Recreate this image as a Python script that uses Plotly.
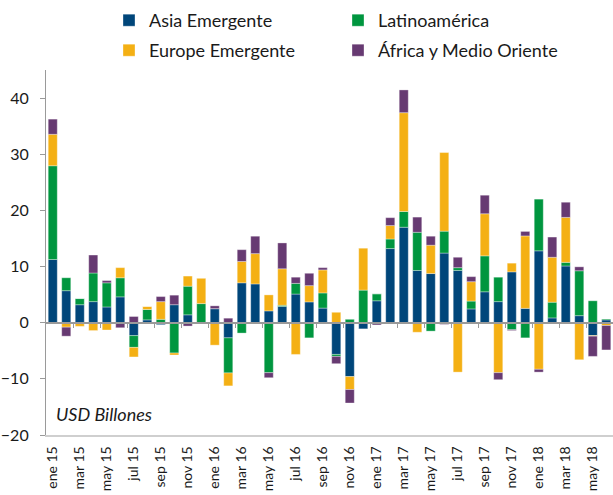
import plotly.graph_objects as go

meses = ["ene", "feb", "mar", "abr", "may", "jun", "jul", "ago", "sep", "oct", "nov", "dic"]
categorias = [f"{m} {y}" for y in ["15", "16", "17", "18"] for m in meses][:42]

asia = [11.25, 5.7, 3.2, 3.75, 2.8, 4.6, -2.3, 0.5, -0.35, 3.2, 1.4, 0.0,
        2.5, -2.7, 7.1, 6.9, 2.1, 2.9, 5.1, 3.7, 2.6, -5.65, -9.6, -1.1,
        3.9, 13.2, 17.0, 9.3, 8.75, 12.4, 9.3, 2.45, 5.5, 3.75, 9.05, 2.55,
        12.8, 0.85, 10.1, 1.25, -2.3, 0.5]
latam = [16.7, 2.3, 1.1, 5.1, 4.3, 3.4, -2.1, 1.85, 0.6, -5.4, 5.1, 3.4,
         0.0, -6.25, -1.85, -0.2, -8.9, 0.2, 1.9, -2.7, 2.7, -0.35, 0.6, 5.8,
         1.25, 1.7, 2.8, 6.8, -1.5, 3.9, 0.5, 1.4, 6.4, 4.35, -1.25, -2.7,
         9.2, 2.8, 0.65, 8.0, 3.9, 0.15]
europa = [5.6, -0.8, -0.65, -1.4, -1.3, 1.8, -1.7, 0.55, 3.15, -0.35, 1.8, 4.5,
          -4.0, -2.3, 3.8, 5.4, 2.85, 6.5, -5.65, 2.9, 4.1, 1.85, -2.3, 7.5,
          0.0, 2.4, 17.6, -1.7, 5.05, 14.0, -8.8, 3.45, 7.5, -8.9, 1.55, 12.9,
          -8.3, 8.0, 8.0, -6.6, -0.1, -0.5]
africa = [2.7, -1.6, 0.0, 3.2, 0.4, -0.9, 1.1, 0.0, 0.9, 1.7, -0.6, -0.1,
          0.5, 0.8, 2.1, 3.1, -0.9, 4.6, 1.1, 2.2, 0.4, -1.3, -2.4, 0.0,
          -0.4, 1.4, 4.05, 2.7, 1.6, -0.3, 1.85, 0.9, 3.3, -1.25, -0.15, 0.8,
          -0.5, 3.6, 2.7, 0.7, -3.6, -4.35]

series = [
    ("Asia Emergente", asia, "#00467A", "legend"),
    ("Latinoamérica", latam, "#00963F", "legend"),
    ("Europe Emergente", europa, "#F4B014", "legend2"),
    ("África y Medio Oriente", africa, "#673A72", "legend2"),
]

y_ticks = [-20, -10, 0, 10, 20, 30, 40]
x_idx = list(range(len(categorias)))
label_idx = x_idx[::2]
label_text = [categorias[i] for i in label_idx]

FONT = "Lato"
TXT = "#1a1a1a"

fig = go.Figure()
for name, vals, col, lg in series:
    fig.add_trace(go.Bar(
        x=x_idx, y=vals, name=name, legend=lg,
        marker=dict(color=col, line=dict(color="rgba(255,255,255,0.55)", width=0.6)),
    ))

# zero-line axis with tick marks between categories
fig.add_trace(go.Scatter(x=[-0.5], y=[0], xaxis="x2", mode="markers",
                         marker=dict(opacity=0), showlegend=False, hoverinfo="skip"))

fig.update_layout(
    width=613, height=495,
    margin=dict(l=46, r=0, t=70, b=60, autoexpand=False),
    barmode="relative", bargap=0.33,
    plot_bgcolor="white", paper_bgcolor="white",
    font=dict(family=FONT, color=TXT),
    xaxis=dict(range=[-0.5, 41.5], tickmode="array", tickvals=label_idx, ticktext=label_text,
               tickangle=-90, tickfont=dict(size=14, family=FONT, color=TXT),
               showgrid=False, zeroline=False, showline=True, linecolor="#cfcfcf",
               linewidth=1.5, ticks="", ticklabelstandoff=4, automargin=False),
    xaxis2=dict(range=[-0.5, 41.5], overlaying="x", anchor="free", position=20 / 65,
                side="bottom", showline=True, linecolor="#9a9a9a", linewidth=1.5,
                ticks="outside", ticklen=5, tickcolor="#9a9a9a", tickwidth=1.2,
                tickmode="array", tickvals=[i + 1.5 for i in range(0, 41, 2)],
                showticklabels=False, showgrid=False, zeroline=False, layer="above traces"),
    yaxis=dict(range=[-20, 45], tickmode="array", tickvals=y_ticks,
               tickfont=dict(size=16, family=FONT, color=TXT),
               showgrid=False, zeroline=False, showline=True, linecolor="#9a9a9a",
               linewidth=1.2, ticks="outside", ticklen=5, tickcolor="#9a9a9a",
               ticklabelstandoff=8, automargin=False),
    legend=dict(orientation="h", xref="container", yref="container",
                x=109 / 613, y=1 - 2 / 495, xanchor="left", yanchor="top",
                entrywidth=184, entrywidthmode="pixels",
                font=dict(size=18, family=FONT, color=TXT), itemwidth=30,
                bgcolor="rgba(0,0,0,0)"),
    legend2=dict(orientation="h", xref="container", yref="container",
                 x=109 / 613, y=1 - 32 / 495, xanchor="left", yanchor="top",
                 entrywidth=184, entrywidthmode="pixels",
                 font=dict(size=18, family=FONT, color=TXT), itemwidth=30,
                 bgcolor="rgba(0,0,0,0)"),
    annotations=[dict(text="<i>USD Billones</i>", xref="paper", yref="y",
                      x=0.014, y=-16.3, xanchor="left", yanchor="middle", showarrow=False,
                      font=dict(size=18, family=FONT, color=TXT))],
    showlegend=True,
)

fig.write_html("out.html", config={"displayModeBar": False},
               post_script="document.body.style.margin='0';document.body.style.padding='0';")
